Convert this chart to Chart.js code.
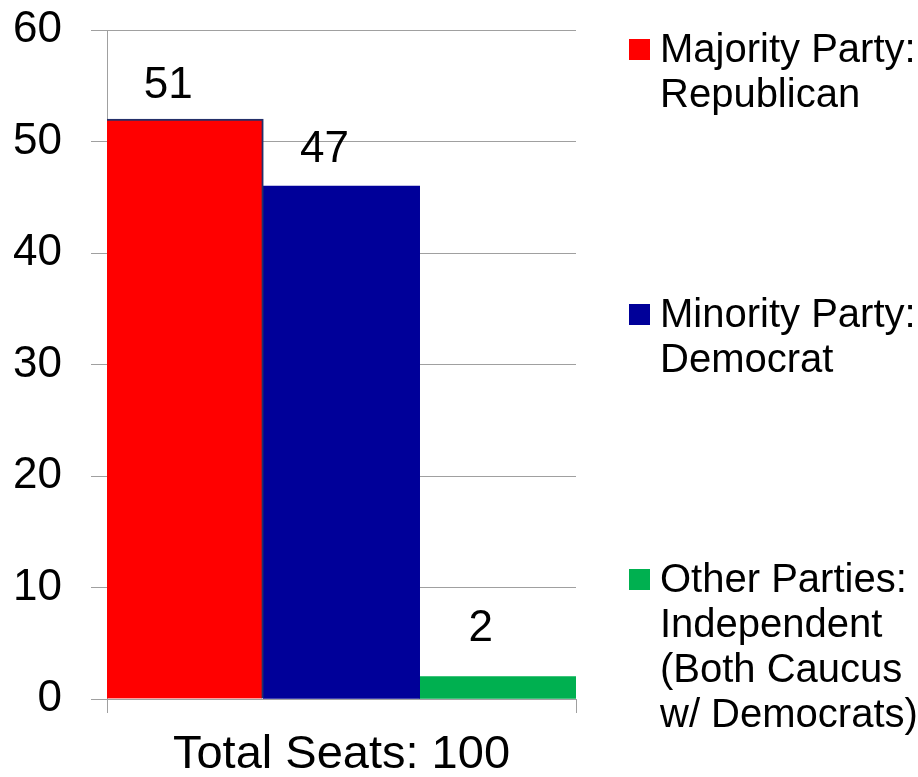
<!DOCTYPE html>
<html>
<head>
<meta charset="utf-8">
<script src="https://cdn.jsdelivr.net/npm/chart.js@4.4.1/dist/chart.umd.min.js"></script>
<style>
  html, body { margin: 0; padding: 0; background: #fff; }
  #wrap { width: 918px; height: 777px; position: relative; }
</style>
</head>
<body>
<div id="wrap"><canvas id="chartSeats"></canvas></div>
<script>
const categorias = ["Total Seats: 100"];
const partidos = [
    ["Majority Party:", "Republican"],
    ["Minority Party:", "Democrat"],
    ["Other Parties:", "Independent", "(Both Caucus", "w/ Democrats)"]
];
const asientos = [52, 46, 2];
const etiquetas = ["51", "47", "2"];
const colores = ["#ff0000", "#000099", "#00b050"];
const ticksY = [0, 10, 20, 30, 40, 50, 60];

document.addEventListener('DOMContentLoaded', function () {
    const fuente = "'Liberation Sans', Arial, sans-serif";

    // etiquetas de valor sobre cada barra
    const valorPlugin = {
        id: 'valores',
        afterDatasetsDraw(chart, args, opts) {
            const ctx = chart.ctx;
            ctx.save();
            ctx.font = "44px " + fuente;
            ctx.fillStyle = "#000";
            ctx.textAlign = "center";
            ctx.textBaseline = "alphabetic";
            chart.data.datasets.forEach((ds, i) => {
                const bar = chart.getDatasetMeta(i).data[0];
                ctx.fillText(etiquetas[i], bar.x + opts.dx, bar.y + opts.dy[i]);
            });
            ctx.restore();
        }
    };

    // leyenda a la derecha con texto en varias lineas
    const leyendaPlugin = {
        id: 'leyendaLineas',
        afterDraw(chart, args, opts) {
            const ctx = chart.ctx;
            const area = chart.chartArea;
            ctx.save();
            ctx.font = "40px " + fuente;
            ctx.textBaseline = "alphabetic";
            ctx.textAlign = "left";
            chart.data.datasets.forEach((ds, i) => {
                const cy = area.top + opts.start + i * opts.step;
                ctx.fillStyle = ds.backgroundColor;
                ctx.fillRect(opts.x, cy - 10, 21, 21);
                ctx.fillStyle = "#000";
                ds.label.forEach((linea, j) => {
                    ctx.fillText(linea, opts.x + 31, cy + 13 + j * 45);
                });
            });
            ctx.restore();
        }
    };

    const ctx = document.getElementById('chartSeats').getContext('2d');
    new Chart(ctx, {
        type: 'bar',
        data: {
            labels: categorias,
            datasets: partidos.map((p, i) => ({
                label: p,
                data: [asientos[i]],
                backgroundColor: colores[i],
                borderColor: i === 0 ? '#24306a' : colores[i],
                borderWidth: i === 0 ? { top: 2, left: 0, right: 2, bottom: 0 } : 0,
                borderSkipped: false,
                categoryPercentage: 1,
                barPercentage: 1
            }))
        },
        options: {
            responsive: true,
            maintainAspectRatio: false,
            animation: false,
            layout: { padding: { top: 30, right: 342, left: 0, bottom: 0 } },
            plugins: {
                legend: { display: false },
                tooltip: { enabled: false },
                valores: { dx: -17, dy: [-21, -24, -36] },
                leyendaLineas: { x: 629, start: 19, step: 265 }
            },
            scales: {
                x: {
                    grid: {
                        display: true,
                        drawOnChartArea: false,
                        drawTicks: true,
                        tickLength: 14,
                        color: '#a0a0a0',
                        offset: true
                    },
                    border: { color: '#a0a0a0', width: 1 },
                    ticks: {
                        color: '#000',
                        font: { family: fuente, size: 47 },
                        padding: 14
                    },
                    afterFit: s => { s.height = 78; s.paddingLeft = 0; s.paddingRight = 0; }
                },
                y: {
                    min: 0,
                    max: 60,
                    afterBuildTicks: s => { s.ticks = ticksY.map(v => ({ value: v })); },
                    grid: {
                        color: '#a0a0a0',
                        lineWidth: 1,
                        tickLength: 16
                    },
                    border: { color: '#a0a0a0', width: 1 },
                    ticks: {
                        color: '#000',
                        font: { family: fuente, size: 44 },
                        padding: 29
                    },
                    afterFit: s => { s.width = 107; s.paddingTop = 0; s.paddingBottom = 0; }
                }
            }
        },
        plugins: [valorPlugin, leyendaPlugin]
    });
});
</script>
</body>
</html>
